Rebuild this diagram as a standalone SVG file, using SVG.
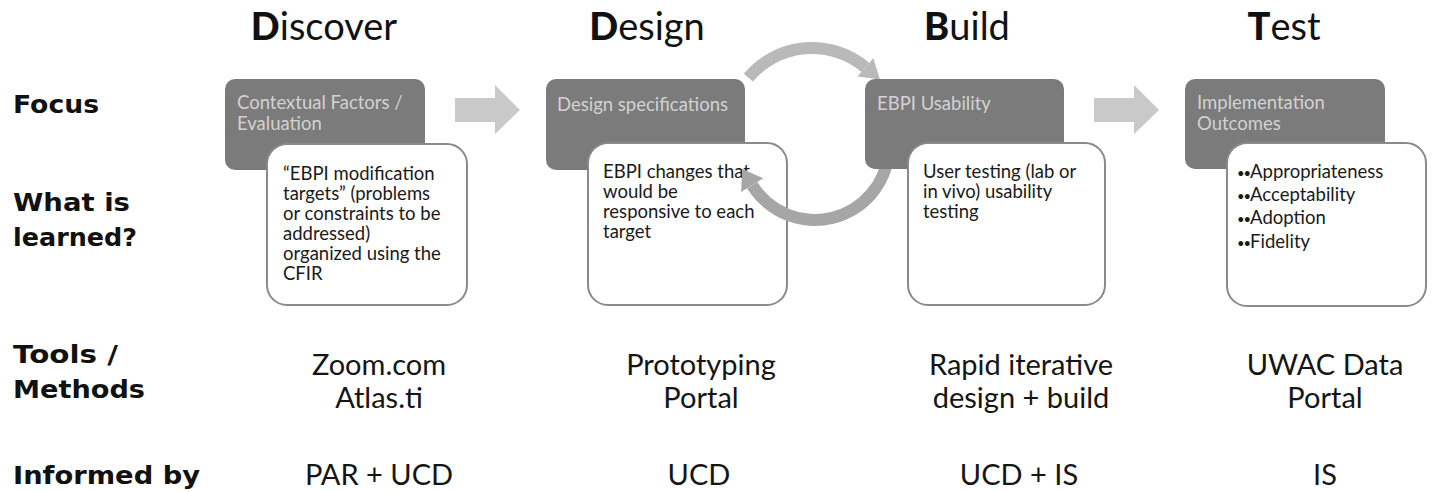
<svg xmlns="http://www.w3.org/2000/svg" width="1432" height="492" viewBox="0 0 1432 492">
<style>
.title{font-family:Lato,"Open Sans","Liberation Sans",sans-serif;font-size:38px;fill:#111;text-anchor:middle}
.title .b{font-weight:900}
.lbl{font-family:"DejaVu Sans","Liberation Sans",sans-serif;font-weight:bold;font-size:25px;fill:#111}
.tool{font-family:Lato,"Open Sans","Liberation Sans",sans-serif;font-size:29px;fill:#151515;text-anchor:middle}
.dark{fill:#7b7b7b}
.dtxt{font-family:Lato,"Open Sans","Liberation Sans",sans-serif;font-size:18.5px;fill:#d2d2d2}
.wbox{fill:#fff;stroke:#8a8a8a;stroke-width:2}
.wtxt{font-family:Lato,"Open Sans","Liberation Sans",sans-serif;font-size:18.5px;fill:#1a1a1a}
.wtxt .bul{font-size:13px;letter-spacing:-1px}
.blk{fill:#c9c9c9}
.arcU{fill:none;stroke:#b9b9b9;stroke-width:12}
.arcL{fill:#a6a6a6}
</style>
<rect width="1432" height="492" fill="#fff"/>
<g id="titles">
<text class="title" x="324" y="40"><tspan class="b">D</tspan>iscover</text>
<text class="title" x="647" y="40"><tspan class="b">D</tspan>esign</text>
<text class="title" x="967" y="40"><tspan class="b">B</tspan>uild</text>
<text class="title" x="1284" y="40"><tspan class="b">T</tspan>est</text>
</g>
<g id="row-labels">
<text class="lbl" x="13" y="113" textLength="86" lengthAdjust="spacingAndGlyphs">Focus</text>
<text class="lbl" x="13" y="211" textLength="117" lengthAdjust="spacingAndGlyphs">What is</text>
<text class="lbl" x="13" y="246" textLength="124" lengthAdjust="spacingAndGlyphs">learned?</text>
<text class="lbl" x="13" y="363" textLength="105" lengthAdjust="spacingAndGlyphs">Tools /</text>
<text class="lbl" x="13" y="398" textLength="132" lengthAdjust="spacingAndGlyphs">Methods</text>
<text class="lbl" x="13" y="484" textLength="187" lengthAdjust="spacingAndGlyphs">Informed by</text>
</g>
<g id="discover">
<rect class="dark" x="225" y="79" width="200" height="91" rx="10"/>
<text class="dtxt" x="237" y="109">Contextual Factors /</text>
<text class="dtxt" x="237" y="130">Evaluation</text>
<rect class="wbox" x="267" y="144" width="200" height="161" rx="20"/>
<text class="wtxt" x="283" y="180">“EBPI modification</text>
<text class="wtxt" x="283" y="200">targets” (problems</text>
<text class="wtxt" x="283" y="220">or constraints to be</text>
<text class="wtxt" x="283" y="240">addressed)</text>
<text class="wtxt" x="283" y="260">organized using the</text>
<text class="wtxt" x="283" y="280">CFIR</text>
<text class="tool" x="379" y="375">Zoom.com</text>
<text class="tool" x="379" y="408">Atlas.ti</text>
<text class="tool" x="379" y="485">PAR + UCD</text>
</g>
<g id="design">
<rect class="dark" x="546" y="79" width="199" height="91" rx="10"/>
<text class="dtxt" x="557" y="111">Design specifications</text>
<rect class="wbox" x="588" y="143" width="199" height="162" rx="20"/>
<text class="wtxt" x="603" y="178">EBPI changes that</text>
<text class="wtxt" x="603" y="198">would be</text>
<text class="wtxt" x="603" y="218">responsive to each</text>
<text class="wtxt" x="603" y="238">target</text>
<text class="tool" x="701" y="375">Prototyping</text>
<text class="tool" x="701" y="408">Portal</text>
<text class="tool" x="699" y="485">UCD</text>
</g>
<g id="test">
<rect class="dark" x="1185" y="79" width="200" height="90" rx="10"/>
<text class="dtxt" x="1197" y="109">Implementation</text>
<text class="dtxt" x="1197" y="130">Outcomes</text>
<rect class="wbox" x="1227" y="143" width="199" height="163" rx="20"/>
<text class="wtxt" x="1237" y="178"><tspan class="bul">••</tspan>Appropriateness</text>
<text class="wtxt" x="1237" y="201"><tspan class="bul">••</tspan>Acceptability</text>
<text class="wtxt" x="1237" y="224"><tspan class="bul">••</tspan>Adoption</text>
<text class="wtxt" x="1237" y="248"><tspan class="bul">••</tspan>Fidelity</text>
<text class="tool" x="1325" y="375">UWAC Data</text>
<text class="tool" x="1325" y="408">Portal</text>
<text class="tool" x="1325" y="485">IS</text>
</g>
<g id="connectors">
<polygon class="blk" points="455,98 495,98 495,85 520,110 495,134 495,122 455,122"/>
<polygon class="blk" points="1094,98 1134,98 1134,85 1159,110 1134,134 1134,122 1094,122"/>
<path class="arcU" d="M 748.4 77.6 A 83 83 0 0 1 865.4 67.4"/>
<polygon fill="#b9b9b9" points="857.5,76.5 873.3,58.3 880,79.5"/>
<path class="arcL" d="M 894.7 153 A 80 80 0 0 1 747.2 188.4 L 757.3 182 A 68 68 0 0 0 882.7 151.9 Z"/>
<polygon fill="#a6a6a6" points="763.2,178.3 741.2,192.1 742.1,169.1"/>
</g>
<g id="build">
<rect class="dark" x="865" y="79" width="199" height="90" rx="10"/>
<text class="dtxt" x="877" y="110">EBPI Usability</text>
<rect class="wbox" x="908" y="143" width="197" height="162" rx="20"/>
<text class="wtxt" x="923" y="178">User testing (lab or</text>
<text class="wtxt" x="923" y="198">in vivo) usability</text>
<text class="wtxt" x="923" y="218">testing</text>
<text class="tool" x="1021" y="375">Rapid iterative</text>
<text class="tool" x="1021" y="408">design + build</text>
<text class="tool" x="1019" y="485">UCD + IS</text>
</g>
</svg>
